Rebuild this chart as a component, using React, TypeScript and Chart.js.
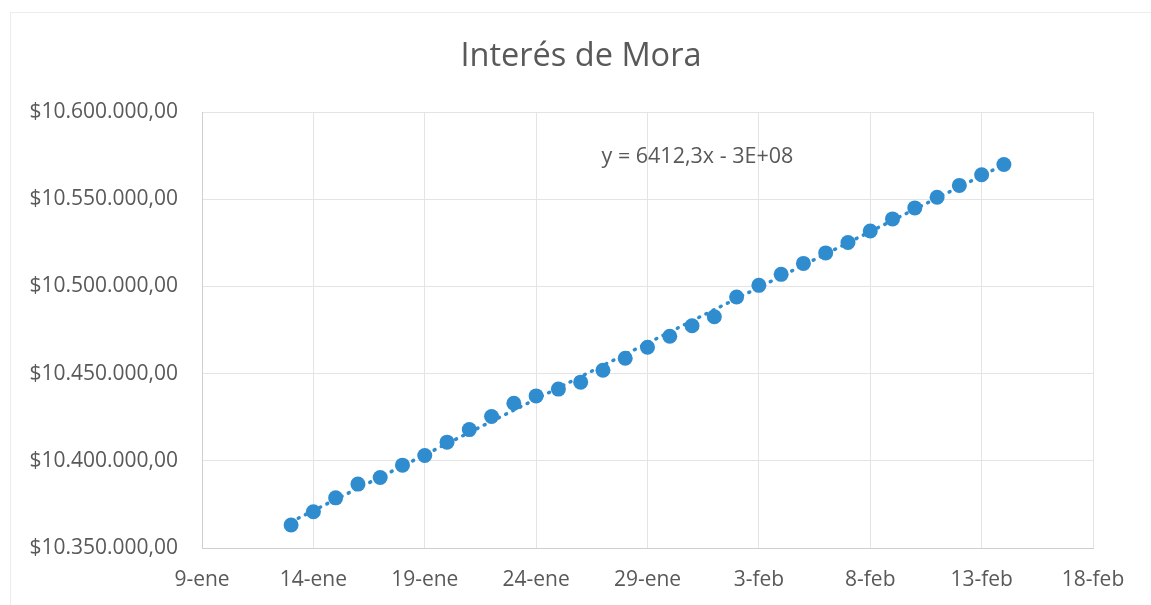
import React, { useEffect, useRef } from "react";
import { Chart, registerables } from "chart.js";

Chart.register(...registerables);

// Day of year (13 = 13-ene ... 45 = 14-feb)
const dayNumbers = [
  13, 14, 15, 16, 17, 18, 19, 20, 21, 22, 23, 24, 25, 26, 27, 28, 29, 30, 31,
  32, 33, 34, 35, 36, 37, 38, 39, 40, 41, 42, 43, 44, 45,
];

const moraValues = [
  10363200, 10370800, 10378750, 10386650, 10390400, 10397500, 10403000,
  10410700, 10417900, 10425400, 10433000, 10437200, 10441100, 10445100,
  10451900, 10458800, 10465100, 10471400, 10477400, 10482600, 10493900,
  10500600, 10506900, 10513200, 10519200, 10525200, 10531800, 10538700,
  10545000, 10551100, 10557900, 10564000, 10569900,
];

const xTickLabels = [
  "9-ene", "14-ene", "19-ene", "24-ene", "29-ene", "3-feb", "8-feb", "13-feb", "18-feb",
];

const titleText = "Interés de Mora";
const equationText = "y = 6412,3x - 3E+08";

const X_MIN = 9;
const X_MAX = 49;
const X_STEP = 5;
const Y_MIN = 10350000;
const Y_MAX = 10600000;
const Y_STEP = 50000;

const TEXT_COLOR = "#595959";
const POINT_COLOR = "#2F8CCF";
const FONT = "'Open Sans', 'DejaVu Sans', sans-serif";

function formatMoney(v: number): string {
  const intPart = Math.round(v).toString();
  const withDots = intPart.replace(/\B(?=(\d{3})+(?!\d))/g, ".");
  return "$" + withDots + ",00";
}

function linearFit(xs: number[], ys: number[]) {
  const n = xs.length;
  let sx = 0, sy = 0, sxx = 0, sxy = 0;
  for (let i = 0; i < n; i++) {
    sx += xs[i];
    sy += ys[i];
    sxx += xs[i] * xs[i];
    sxy += xs[i] * ys[i];
  }
  const slope = (n * sxy - sx * sy) / (n * sxx - sx * sx);
  const intercept = (sy - slope * sx) / n;
  return { slope, intercept };
}

const textPlugin = {
  id: "textLabels",
  afterDatasetsDraw(chart: any) {
    const { ctx, chartArea } = chart;
    const w = chartArea.right - chartArea.left;
    const h = chartArea.bottom - chartArea.top;
    ctx.save();
    ctx.fillStyle = TEXT_COLOR;
    ctx.textAlign = "center";
    ctx.textBaseline = "middle";
    // equation of the trend line
    ctx.font = `21.5px ${FONT}`;
    ctx.fillText(equationText, chartArea.left + w * 0.556, chartArea.top + h * 0.103);
    // chart title, centred on the chart frame
    ctx.font = `32.5px ${FONT}`;
    ctx.fillText(titleText, 581, 57);
    ctx.restore();
  },
};

export default function App() {
  const canvasRef = useRef<HTMLCanvasElement | null>(null);

  useEffect(() => {
    document.body.style.margin = "0";
    const canvas = canvasRef.current;
    if (!canvas) return;

    const points = dayNumbers.map((d, i) => ({ x: d, y: moraValues[i] }));
    const fit = linearFit(dayNumbers, moraValues);
    const x0 = dayNumbers[0];
    const x1 = dayNumbers[dayNumbers.length - 1];
    const trend = [
      { x: x0, y: fit.slope * x0 + fit.intercept },
      { x: x1, y: fit.slope * x1 + fit.intercept },
    ];

    const chart = new Chart(canvas, {
      type: "scatter",
      data: {
        datasets: [
          {
            label: "Tendencia",
            data: trend,
            showLine: true,
            borderColor: POINT_COLOR,
            borderWidth: 3.5,
            borderDash: [1, 7],
            borderCapStyle: "round",
            pointRadius: 0,
            order: 0,
          } as any,
          {
            label: "Interés de Mora",
            data: points,
            backgroundColor: POINT_COLOR,
            borderColor: POINT_COLOR,
            pointRadius: 7.5,
            pointBorderWidth: 0,
            order: 1,
          },
        ],
      },
      options: {
        responsive: false,
        animation: false,
        layout: { padding: { left: 0, right: 58, top: 112, bottom: 0 } },
        plugins: {
          legend: { display: false },
          tooltip: { enabled: false },
          title: { display: false },
        },
        scales: {
          x: {
            type: "linear",
            min: X_MIN,
            max: X_MAX,
            afterFit(scale: any) {
              scale.height = 57;
            },
            ticks: {
              stepSize: X_STEP,
              color: TEXT_COLOR,
              font: { family: FONT, size: 21 },
              padding: 19,
              maxRotation: 0,
              autoSkip: false,
              callback: (value: any) => {
                const idx = Math.round((Number(value) - X_MIN) / X_STEP);
                return xTickLabels[idx] ?? "";
              },
            },
            grid: { color: "#E4E4E4", lineWidth: 1, drawTicks: false },
            border: { color: "#CFCFCF", width: 1 },
          },
          y: {
            type: "linear",
            min: Y_MIN,
            max: Y_MAX,
            afterFit(scale: any) {
              scale.width = 202;
            },
            ticks: {
              stepSize: Y_STEP,
              color: TEXT_COLOR,
              font: { family: FONT, size: 21 },
              padding: 24,
              callback: (value: any) => formatMoney(Number(value)),
            },
            grid: { color: "#E4E4E4", lineWidth: 1, drawTicks: false },
            border: { color: "#CFCFCF", width: 1 },
          },
        },
      },
      plugins: [
        textPlugin,
        {
          id: "rightBorder",
          afterDraw(c: any) {
            const { ctx, chartArea } = c;
            ctx.save();
            ctx.strokeStyle = "#E4E4E4";
            ctx.lineWidth = 1;
            ctx.beginPath();
            ctx.moveTo(Math.round(chartArea.right) + 0.5, chartArea.top);
            ctx.lineTo(Math.round(chartArea.right) + 0.5, chartArea.bottom);
            ctx.stroke();
            ctx.restore();
          },
        },
      ],
    });

    return () => {
      chart.destroy();
    };
  }, []);

  return (
    <div style={{ position: "relative", width: 1151, height: 605, background: "#fff" }}>
      <div
        style={{
          position: "absolute",
          left: 10,
          top: 12,
          width: 1141,
          height: 593,
          borderTop: "1px solid #ECECEC",
          borderLeft: "1px solid #ECECEC",
          boxSizing: "border-box",
        }}
      />
      <canvas
        ref={canvasRef}
        width={1151}
        height={605}
        style={{ position: "absolute", left: 0, top: 0, width: 1151, height: 605 }}
      />
    </div>
  );
}
